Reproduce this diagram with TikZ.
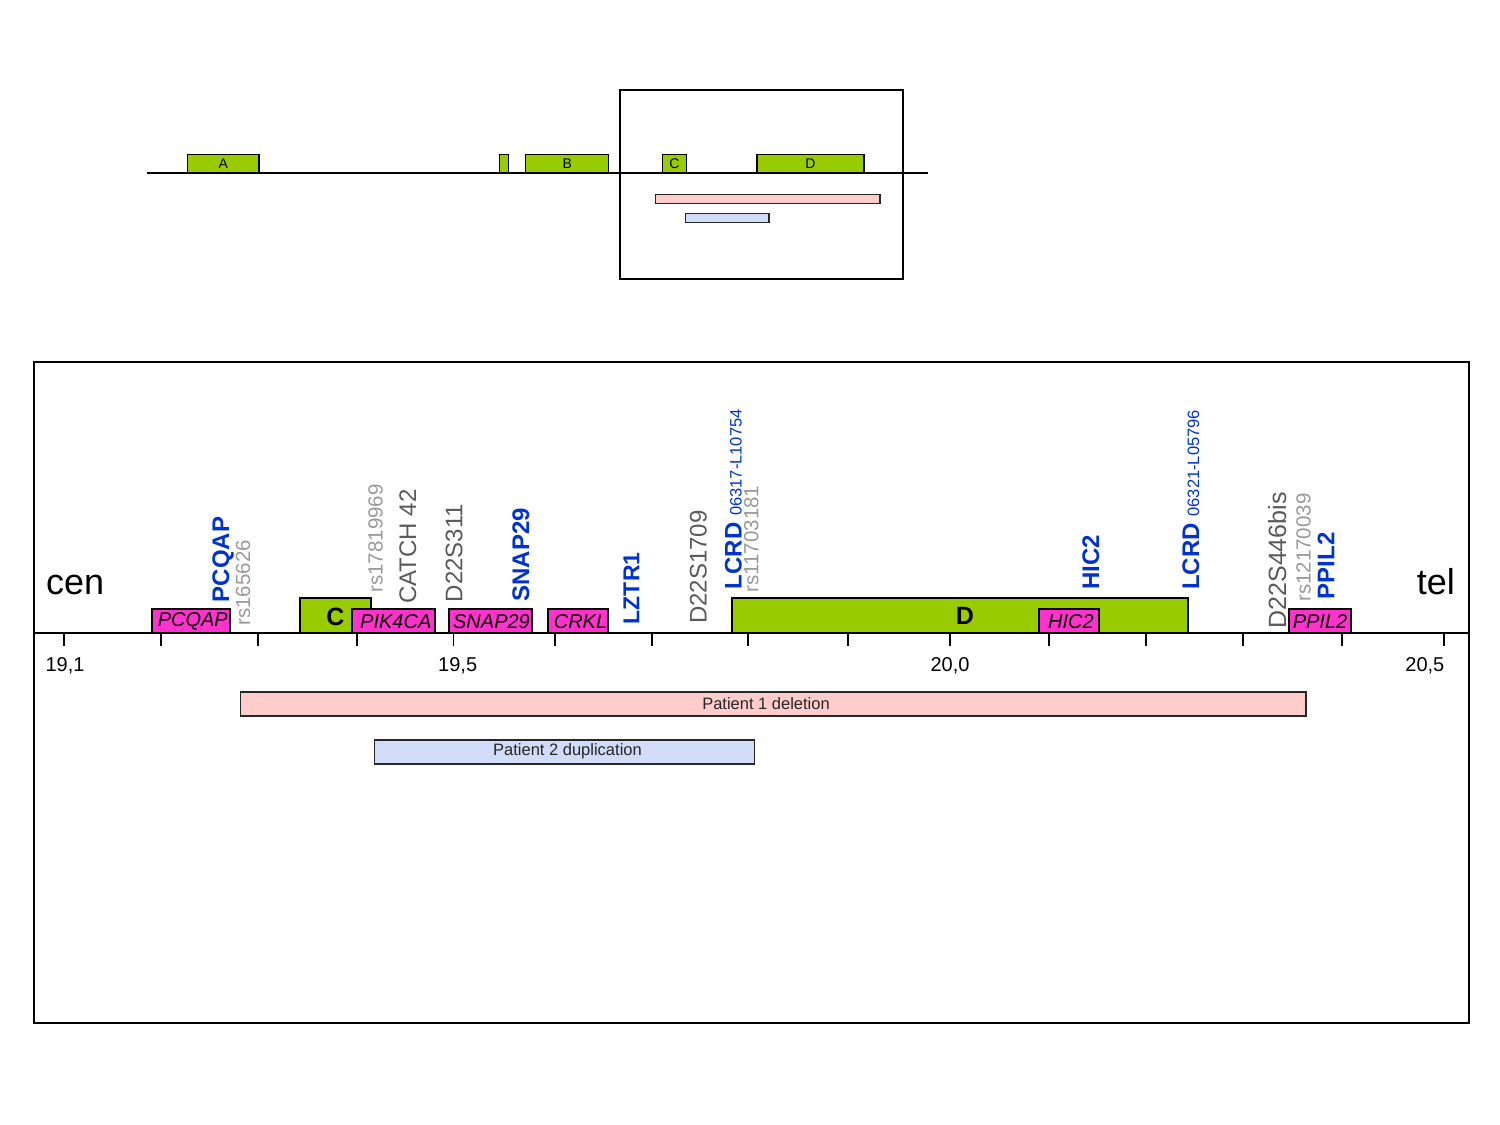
\documentclass[tikz,border=0pt]{standalone}
\usepackage{fontspec}
\setmainfont{Liberation Sans}
\newcommand\myfs[1]{\fontsize{#1}{#1}\selectfont}
\definecolor{lime}{HTML}{99CC00}
\definecolor{magen}{HTML}{FF33CC}
\definecolor{lblue}{HTML}{0033CC}
\definecolor{dgray}{HTML}{5A5A5A}
\definecolor{lgray}{HTML}{999999}
\definecolor{pinkbar}{HTML}{FFCCCC}
\definecolor{bluebar}{HTML}{D0DCF8}
\tikzset{
  gbox/.style={draw=black, line width=1.7pt, fill=lime},
  mbox/.style={draw=black, line width=1.7pt, fill=magen},
  pbar/.style={draw=black!85, line width=1.7pt, fill=pinkbar},
  bbar/.style={draw=black!85, line width=1.7pt, fill=bluebar},
  vlab/.style={rotate=90, anchor=base west, inner sep=0pt},
  blab/.style={vlab, text=lblue, font=\myfs{24}\bfseries},
  dlab/.style={vlab, text=dgray, font=\myfs{24}},
  slab/.style={vlab, text=lgray, font=\myfs{20.5}},
  gtext/.style={inner sep=0pt, font=\myfs{20}\itshape, text=black},
  otext/.style={inner sep=0pt, font=\myfs{14}},
  axtext/.style={inner sep=0pt, anchor=base, font=\myfs{20}},
  bartext/.style={inner sep=0pt, font=\myfs{16.5}, text=black!85},
}
\begin{document}
\begin{tikzpicture}[x=1pt,y=-1pt]
\useasboundingbox (0,0) rectangle (1500,1125);

% ---------- overview ----------
\draw[line width=1.8pt] (619.7,89.7) rectangle (903.3,279);
\draw[gbox, line width=1.4pt] (187.7,154.7) rectangle (259,172.7);
\draw[gbox, line width=1.4pt] (499.7,154.7) rectangle (508.7,172.7);
\draw[gbox, line width=1.4pt] (525.7,154.7) rectangle (608.7,172.7);
\draw[gbox, line width=1.4pt] (662.7,154.7) rectangle (686.3,172.7);
\draw[gbox, line width=1.4pt] (757,154.7) rectangle (864,172.7);
\coordinate (ovL) at (147.3,172.7);
\coordinate (ovR) at (928.3,172.7);
\draw[line width=1.8pt] (ovL) -- (ovR);
\node[otext] (oA) at (223.3,164) {A};
\node[otext] (oB) at (567.2,164) {B};
\node[otext] (oC) at (674.5,164) {C};
\node[otext] (oD) at (810.5,164) {D};
\draw[pbar, line width=1.4pt] (655.7,194.3) rectangle (880,203.7);
\draw[bbar, line width=1.4pt] (685.7,213.7) rectangle (769,222.7);

% ---------- main frame ----------
\draw[line width=2pt] (33.5,362) rectangle (1469,1022.5);

% green regions
\draw[gbox] (300,597.7) rectangle (371.3,633.3);
\draw[gbox] (732.3,597.7) rectangle (1187.7,633.3);
\node[inner sep=0pt, font=\myfs{25}\bfseries] (lc) at (335.5,616.5) {C};
\node[inner sep=0pt, font=\myfs{25}\bfseries] (ld) at (965,616.3) {D};

% gene boxes
\draw[mbox] (151.7,609.3) rectangle (230.3,633.3);
\draw[mbox] (352,609.3) rectangle (435.3,633.3);
\draw[mbox] (449.3,609.3) rectangle (532.3,633.3);
\draw[mbox] (548.3,609.3) rectangle (607.7,633.3);
\draw[mbox] (1039.3,609.3) rectangle (1099,633.3);
\draw[mbox] (1289.3,609.3) rectangle (1350.7,633.3);
\node[gtext] (g1) at (192.8,621.5) {PCQAP};
\node[gtext] (g2) at (395.8,621.5) {PIK4CA};
\node[gtext] (g3) at (491.5,621.5) {SNAP29};
\node[gtext] (g4) at (580.5,621.5) {CRKL};
\node[gtext] (g5) at (1071,621.5) {HIC2};
\node[gtext] (g6) at (1320,621.5) {PPIL2};

% axis
\coordinate (axL) at (33.5,633.3);
\coordinate (axR) at (1469,633.3);
\draw[line width=2pt] (axL) -- (axR);
\foreach \tx in {64,161,258,357,453.3,555,652,748,848,950,1049,1146,1243,1342,1444}
  \draw[line width=1.6pt] (\tx,633.3) -- (\tx,646);
\node[axtext] (t1) at (65,671) {19,1};
\node[axtext] (t2) at (457.7,671) {19,5};
\node[axtext] (t3) at (950,671) {20,0};
\node[axtext, anchor=base east] (t4) at (1444.5,671) {20,5};

% cen / tel
\node[inner sep=0pt, anchor=base west, font=\myfs{36}] (cen) at (46,594) {cen};
\node[inner sep=0pt, anchor=base east, font=\myfs{36}] (tel) at (1455,594) {tel};

% vertical labels
\node[blab] (v1) at (229,602.3) {PCQAP};
\node[slab] (v2) at (250,625.7) {rs165626};
\node[slab] (v3) at (382.7,592.7) {rs17819969};
\node[dlab] (v4) at (416,604) {CATCH 42};
\node[dlab] (v5) at (462.3,602.3) {D22S311};
\node[blab] (v6) at (529,601.7) {SNAP29};
\node[blab, font=\myfs{23}\bfseries] (v7) at (639.3,624.3) {LZTR1};
\node[dlab] (v8) at (706.7,624) {D22S1709};
\node[blab] (v9) at (741.7,589.3) {LCRD {\mdseries\myfs{16.5}06317-L10754}};
\node[slab] (v10) at (758.3,592.7) {rs11703181};
\node[blab] (v11) at (1099,590) {HIC2};
\node[blab] (v12) at (1199,590) {LCRD {\mdseries\myfs{16.5}06321-L05796}};
\node[dlab, font=\myfs{25}] (v13) at (1286,628.7) {D22S446bis};
\node[slab] (v14) at (1310.7,602) {rs12170039};
\node[blab] (v15) at (1334.3,599.3) {PPIL2};

% patient bars
\draw[pbar] (240.5,692.3) rectangle (1306.3,716);
\node[bartext] (p1) at (766,704) {Patient 1 deletion};
\draw[bbar] (374.5,740) rectangle (754.5,763.7);
\node[bartext] (p2) at (567.5,751.5) {Patient 2 duplication};
\end{tikzpicture}
\end{document}
